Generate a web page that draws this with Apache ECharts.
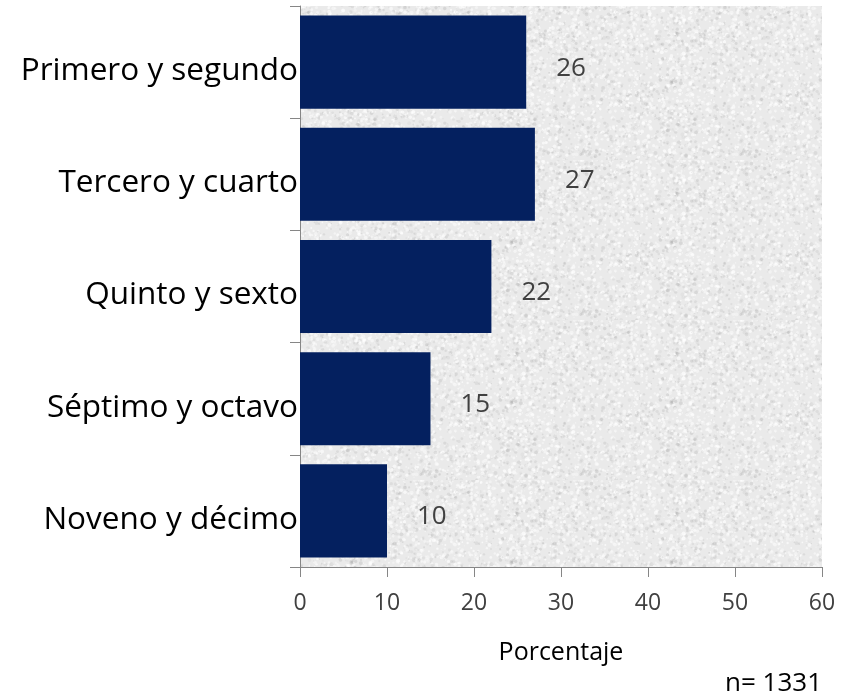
<!DOCTYPE html>
<html>
<head>
<meta charset="utf-8">
<script src="https://cdn.jsdelivr.net/npm/echarts@6/dist/echarts.min.js"></script>
<style>html,body{margin:0;padding:0;background:#fff}#c{width:846px;height:700px}</style>
</head>
<body>
<div id="c"></div>
<script>
var categories = ['Primero y segundo', 'Tercero y cuarto', 'Quinto y sexto', 'Séptimo y octavo', 'Noveno y décimo'];
var values = [26, 27, 22, 15, 10];
var xTicks = [0, 10, 20, 30, 40, 50, 60];
var xAxisName = 'Porcentaje';
var footnote = 'n= 1331';

// decorative paper texture (deterministic)
function makeTexture() {
  var cv = document.createElement('canvas');
  cv.width = 160; cv.height = 160;
  var ctx = cv.getContext('2d');
  ctx.fillStyle = '#eaeaea';
  ctx.fillRect(0, 0, 160, 160);
  var s = 12345;
  function rnd() { s = (s * 1103515245 + 12345) % 2147483648; return s / 2147483648; }
  for (var i = 0; i < 2400; i++) {
    var x = rnd() * 160, y = rnd() * 160, r = 0.6 + rnd() * 1.4;
    var light = rnd() < 0.6;
    ctx.fillStyle = light ? 'rgba(255,255,255,' + (0.3 + rnd() * 0.4) + ')' : 'rgba(160,160,160,' + (0.08 + rnd() * 0.18) + ')';
    ctx.beginPath(); ctx.arc(x, y, r, 0, Math.PI * 2); ctx.fill();
  }
  return cv;
}

var chart = echarts.init(document.getElementById('c'), null, {renderer: 'canvas'});
var font = '"Open Sans", "Noto Sans", sans-serif';
chart.setOption({
  animation: false,
  grid: {
    left: 300, right: 24, top: 6, bottom: 133,
    show: true, borderWidth: 0,
    backgroundColor: {image: makeTexture(), repeat: 'repeat'}
  },
  xAxis: {
    type: 'value', min: 0, max: 60, interval: 10,
    name: xAxisName, nameLocation: 'middle', nameGap: 73,
    nameTextStyle: {fontSize: 25, color: '#000', fontFamily: font},
    axisLine: {show: true, lineStyle: {color: '#868686', width: 1}},
    axisTick: {show: true, length: 10, lineStyle: {color: '#868686'}},
    axisLabel: {fontSize: 23, color: '#404040', fontFamily: font, margin: 25,
      formatter: function (v) { return xTicks.indexOf(v) >= 0 ? String(v) : ''; }},
    splitLine: {show: false}
  },
  yAxis: {
    type: 'category', data: categories, inverse: true,
    axisLine: {show: true, lineStyle: {color: '#868686', width: 1}},
    axisTick: {show: true, length: 10, lineStyle: {color: '#868686'}},
    axisLabel: {
      margin: 2,
      formatter: function (v) { return '{a|' + v + '}'; },
      rich: {a: {fontSize: 31.5, color: '#000', fontFamily: font, padding: [18, 0, 0, 0]}}
    }
  },
  series: [{
    type: 'bar', data: values, barCategoryGap: '17%',
    itemStyle: {color: '#04205f'},
    label: {show: true, position: 'right', distance: 30, offset: [0, 6], fontSize: 26, color: '#404040', fontFamily: font}
  }],
  graphic: [{
    type: 'text', right: 24, top: 671,
    style: {text: footnote, fontSize: 26, fill: '#000', fontFamily: font}
  }]
});
</script>
</body>
</html>
